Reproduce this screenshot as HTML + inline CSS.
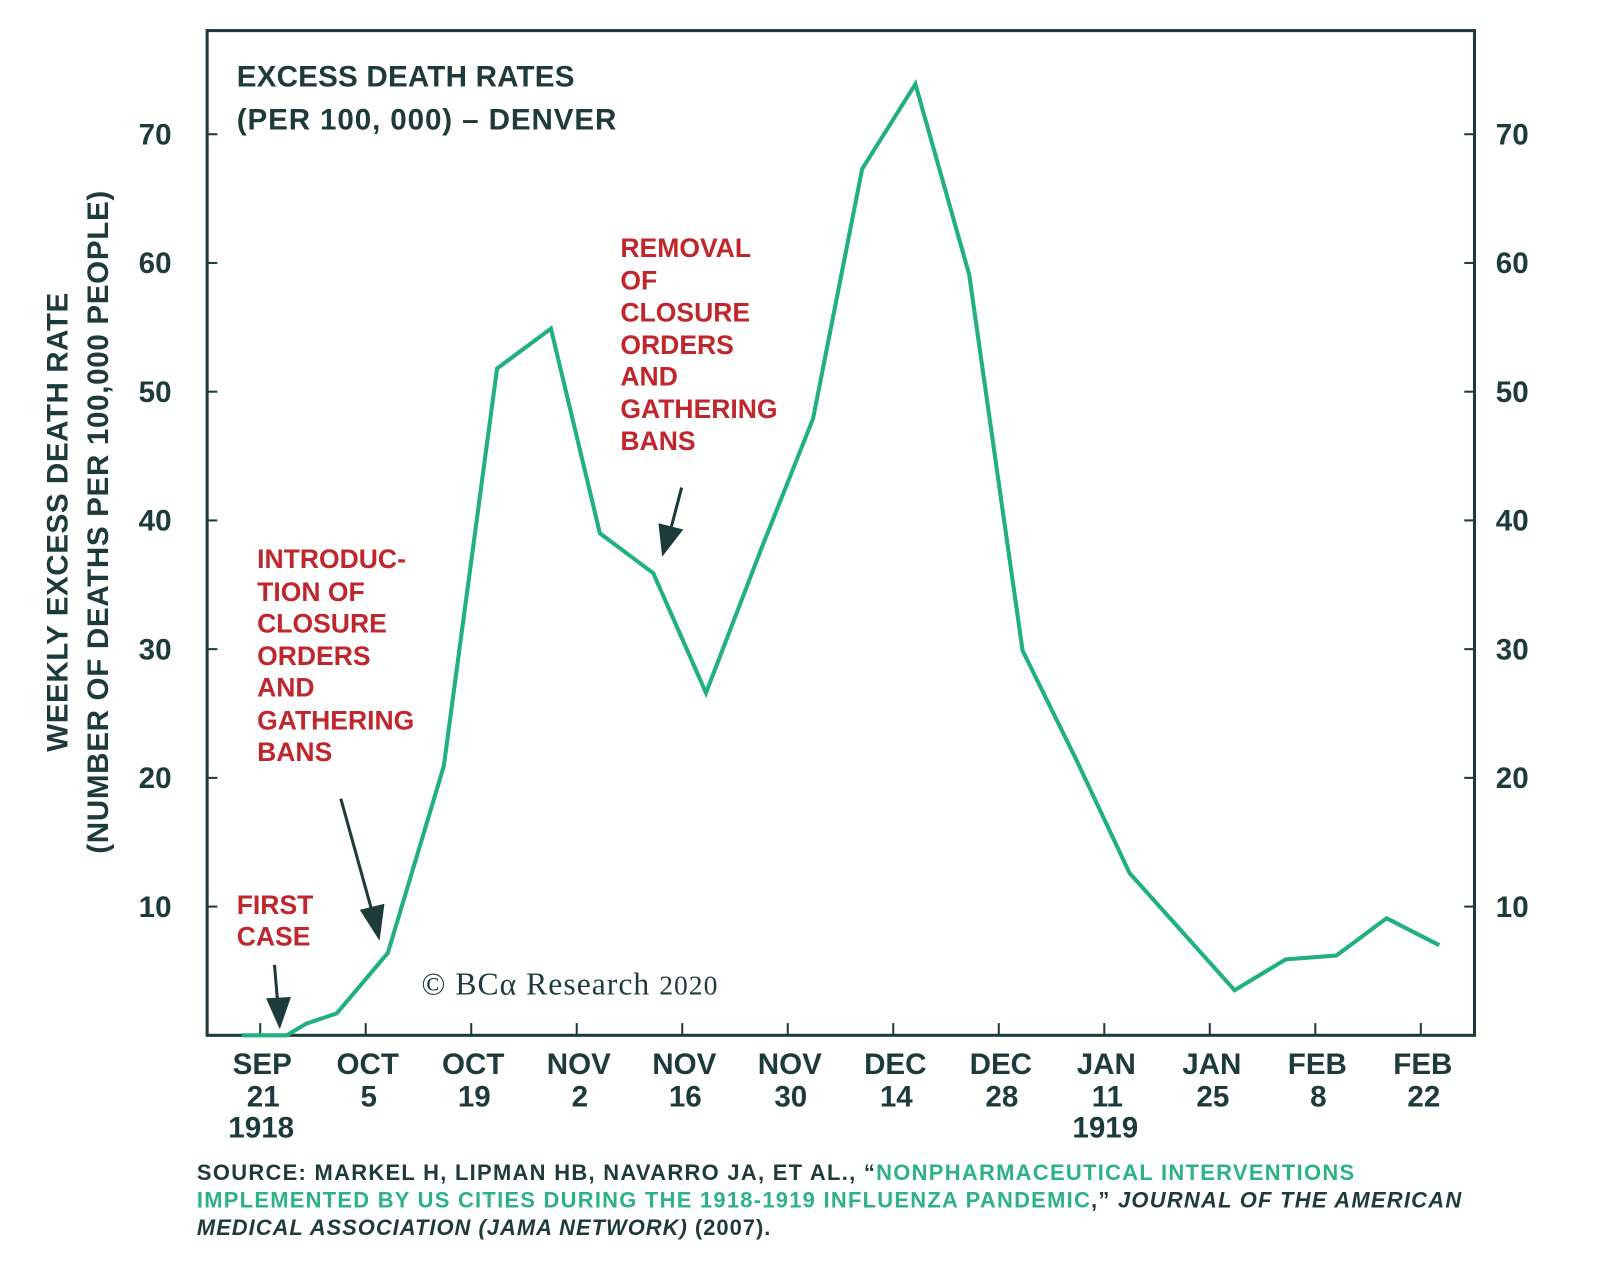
<!DOCTYPE html>
<html><head><meta charset="utf-8"><style>
html,body{margin:0;padding:0;background:#fff}
svg{display:block}
text{font-family:"Liberation Sans",sans-serif}
</style></head><body>
<svg id="chart" width="1600" height="1274" viewBox="0 0 1568 1249" preserveAspectRatio="none" xmlns="http://www.w3.org/2000/svg">
<rect x="203" y="30" width="1242" height="985" fill="none" stroke="#1e3b3b" stroke-width="3"/>
<g id="yt"></g><g id="xt"></g>
<text x="232" y="85" font-size="29" font-weight="bold" fill="#1e3b3b" textLength="331">EXCESS DEATH RATES</text>
<text x="232" y="127" font-size="29" font-weight="bold" fill="#1e3b3b" textLength="372">(PER 100, 000) – DENVER</text>
<g transform="translate(66,512) rotate(-90)">
<text x="-225" y="0" font-size="29" font-weight="bold" fill="#1e3b3b" textLength="450">WEEKLY EXCESS DEATH RATE</text>
<text x="-325" y="40" font-size="29" font-weight="bold" fill="#1e3b3b" textLength="650">(NUMBER OF DEATHS PER 100,000 PEOPLE)</text>
</g>
<g fill="#c0272d" font-size="26" font-weight="bold">
<text x="608" y="252">REMOVAL</text><text x="608" y="284">OF</text><text x="608" y="315">CLOSURE</text><text x="608" y="347">ORDERS</text><text x="608" y="378">AND</text><text x="608" y="410">GATHERING</text><text x="608" y="441">BANS</text>
</g>
<g fill="#c0272d" font-size="26" font-weight="bold">
<text x="252" y="557">INTRODUC-</text><text x="252" y="589">TION OF</text><text x="252" y="620">CLOSURE</text><text x="252" y="652">ORDERS</text><text x="252" y="683">AND</text><text x="252" y="715">GATHERING</text><text x="252" y="746">BANS</text>
</g>
<g fill="#c0272d" font-size="26" font-weight="bold">
<text x="232" y="896">FIRST</text><text x="232" y="927">CASE</text>
</g>
<g stroke="#1e3b3b" stroke-width="3" fill="#1e3b3b">
<line x1="668" y1="478" x2="657" y2="520"/><polygon points="650,542 647,515 667,520"/>
<line x1="334" y1="783" x2="365" y2="895"/><polygon points="371,918 355,893 375,888"/>
<line x1="269" y1="946" x2="272" y2="982"/><polygon points="274,1005 263,980 283,979"/>
</g>
<text x="413" y="975" font-size="31" fill="#1e3b3b" textLength="290" style="font-family:'Liberation Serif',serif">© BCα Research <tspan font-size="27">2020</tspan></text>
<g font-size="21.5" font-weight="bold">
<text x="193" y="1157" fill="#1e3b3b" textLength="1134">SOURCE: MARKEL H, LIPMAN HB, NAVARRO JA, ET AL., “<tspan fill="#2bb383">NONPHARMACEUTICAL INTERVENTIONS</tspan></text>
<text x="193" y="1184" fill="#2bb383" textLength="1239">IMPLEMENTED BY US CITIES DURING THE 1918-1919 INFLUENZA PANDEMIC<tspan fill="#1e3b3b">,” <tspan font-style="italic">JOURNAL OF THE AMERICAN</tspan></tspan></text>
<text x="193" y="1211" fill="#1e3b3b" textLength="562"><tspan font-style="italic">MEDICAL ASSOCIATION (JAMA NETWORK)</tspan> (2007).</text>
</g>
<path id="series" fill="none" stroke="#21b07f" stroke-width="4" stroke-linejoin="miter"/>
</svg>
<script>
const weeks=[-0.35,0.5,0.87,1.45,2.42,3.48,4.49,5.51,6.44,7.45,8.45,9.48,10.48,11.41,12.42,13.44,14.45,15.47,16.48,18.47,19.44,20.4,21.35,22.35];
const rates=[0,0,0.9,1.7,6.4,20.9,51.8,54.9,39,35.9,26.6,37.6,47.9,67.3,73.9,59.1,29.9,21.4,12.6,3.5,5.9,6.2,9.1,7.0];
const yTicks=[10,20,30,40,50,60,70];
const xTickWeeks=[0,2,4,6,8,10,12,14,16,18,20,22];
const xMonth=["SEP","OCT","OCT","NOV","NOV","NOV","DEC","DEC","JAN","JAN","FEB","FEB"];
const xDay=["21","5","19","2","16","30","14","28","11","25","8","22"];
const xYear=["1918","","","","","","","","1919","","",""];
const NS="http://www.w3.org/2000/svg";
function X(w){return 255+w*51.7;}
function Y(v){return 1015-v*12.62;}
const yt=document.getElementById('yt'),xt=document.getElementById('xt');
function mk(tag,attrs,parent,txt){const e=document.createElementNS(NS,tag);for(const k in attrs)e.setAttribute(k,attrs[k]);if(txt!==undefined)e.textContent=txt;parent.appendChild(e);return e;}
yTicks.forEach(v=>{
 const y=Y(v);
 mk('line',{x1:203,x2:213,y1:y,y2:y,stroke:'#1e3b3b','stroke-width':2},yt);
 mk('line',{x1:1435,x2:1445,y1:y,y2:y,stroke:'#1e3b3b','stroke-width':2},yt);
 const l=mk('text',{x:152,y:y+10,'text-anchor':'middle','font-size':29,'font-weight':'bold',fill:'#1e3b3b'},yt,String(v));
 
 
 const r=mk('text',{x:1482,y:y+10,'text-anchor':'middle','font-size':29,'font-weight':'bold',fill:'#1e3b3b'},yt,String(v));
 
 
});
xTickWeeks.forEach((w,i)=>{
 const x=X(w);
 mk('line',{x1:x,x2:x,y1:1003,y2:1015,stroke:'#1e3b3b','stroke-width':2},xt);
 const t=mk('text',{x:x+2,y:1053,'text-anchor':'middle','font-size':29,'font-weight':'bold',fill:'#1e3b3b'},xt);
 
 
 mk('tspan',{x:x+2,y:1053},t,xMonth[i]);
 mk('tspan',{x:x+3,y:1085},t,xDay[i]);
 if(xYear[i])mk('tspan',{x:x+1,y:1115},t,xYear[i]);
});
document.getElementById('series').setAttribute('d',weeks.map((w,i)=>(i?'L':'M')+X(w).toFixed(1)+','+Y(rates[i]).toFixed(1)).join(' '));
</script>
</body></html>
